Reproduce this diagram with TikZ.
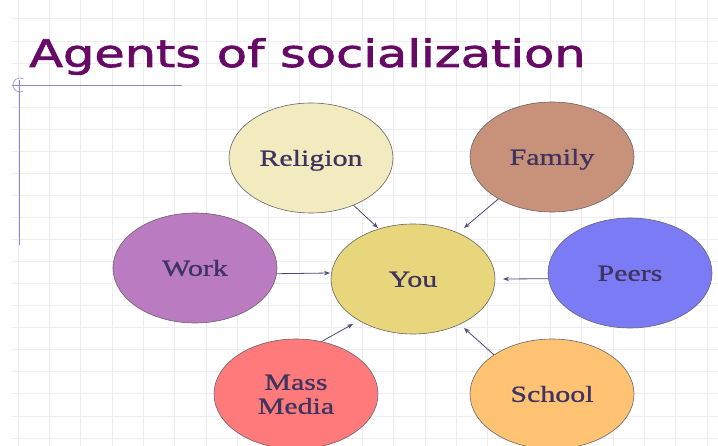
\documentclass[tikz,border=0pt]{standalone}
\usepackage{fontspec}
\setmainfont[FakeBold=0.8]{Liberation Serif}
\newfontfamily\titlefont[FakeBold=1.6]{DejaVu Sans}
\newfontfamily\lblfont[FakeBold=0.8]{Liberation Serif}
\usetikzlibrary{shapes.geometric,arrows.meta}
\definecolor{gridc}{RGB}{236,236,241}
\definecolor{bluel}{RGB}{140,140,200}
\definecolor{titlec}{RGB}{102,10,102}
\definecolor{txtc}{RGB}{62,52,96}
\definecolor{edgec}{RGB}{105,100,105}
\definecolor{arrc}{RGB}{75,75,120}
\definecolor{crel}{RGB}{243,235,192}
\definecolor{cfam}{RGB}{200,145,122}
\definecolor{cwork}{RGB}{186,123,192}
\definecolor{cyou}{RGB}{232,214,124}
\definecolor{cpeer}{RGB}{123,123,245}
\definecolor{cmass}{RGB}{255,123,123}
\definecolor{cschool}{RGB}{255,195,115}
\newcommand{\lbl}[1]{\raisebox{0pt}[\dimexpr\height+6pt\relax]{\scalebox{1.3}[1]{\lblfont\fontsize{23}{24}\selectfont\begin{tabular}{@{}c@{}}#1\end{tabular}}}}
\tikzset{
  agent/.style={ellipse, draw=edgec, line width=0.6pt, minimum width=164pt, minimum height=110pt, inner sep=0pt, text=txtc},
  arr/.style={draw=arrc, line width=0.8pt, -{Stealth[length=6pt,width=4.5pt]}},
  gridline/.style={draw=gridc, line width=0.8pt}
}
\begin{document}
\begin{tikzpicture}[x=1pt,y=-1pt]
\clip (0,0) rectangle (718,446);
\fill[white] (0,0) rectangle (718,446);
% grid
\foreach \k in {0,...,22} { \draw[gridline] ({18+31.32*\k},0) -- ({18+31.32*\k},446); }
\foreach \k in {-2,...,17} { \draw[gridline] (12,{63+22.06*\k}) -- (718,{63+22.06*\k}); }
% title
\node[anchor=base west, inner sep=0pt, text=titlec] (title) at (29,67)
  {\scalebox{1.3}[1]{\titlefont\fontsize{38}{40}\selectfont Agents of socialization}};
% decorative blue lines
\draw[bluel, line width=0.8pt] (12,85) -- (182,85);
\draw[bluel, line width=0.8pt] (19,80) -- (19,245);
\draw[bluel, line width=0.6pt] (23.5,78.9) arc[start angle=-60, end angle=-300, radius=7];
% nodes
\node[agent, fill=crel] (rel) at (311,158) {\lbl{Religion}};
\node[agent, fill=cfam] (fam) at (552,157) {\lbl{Family}};
\node[agent, fill=cwork] (work) at (195,268) {\lbl{Work}};
\node[agent, fill=cyou] (you) at (413,279) {\lbl{You}};
\node[agent, fill=cpeer] (peer) at (630,273) {\lbl{Peers}};
\node[agent, fill=cmass] (mass) at (296,394) {\lbl{Mass\\Media}};
\node[agent, fill=cschool] (school) at (552,394) {\lbl{School}};
% arrows
\draw[arr] (rel.-48) -- ([shift={(-35,-51)}]you.center);
\draw[arr] (fam.218) -- ([shift={(51,-51)}]you.center);
\draw[arr] (work.-4) -- ([shift={(-83,-6)}]you.center);
\draw[arr] (peer.184) -- ([shift={(90,0)}]you.center);
\draw[arr] (mass.64) -- ([shift={(-60,45)}]you.center);
\draw[arr] (school.146) -- ([shift={(51,49)}]you.center);
\end{tikzpicture}
\end{document}
